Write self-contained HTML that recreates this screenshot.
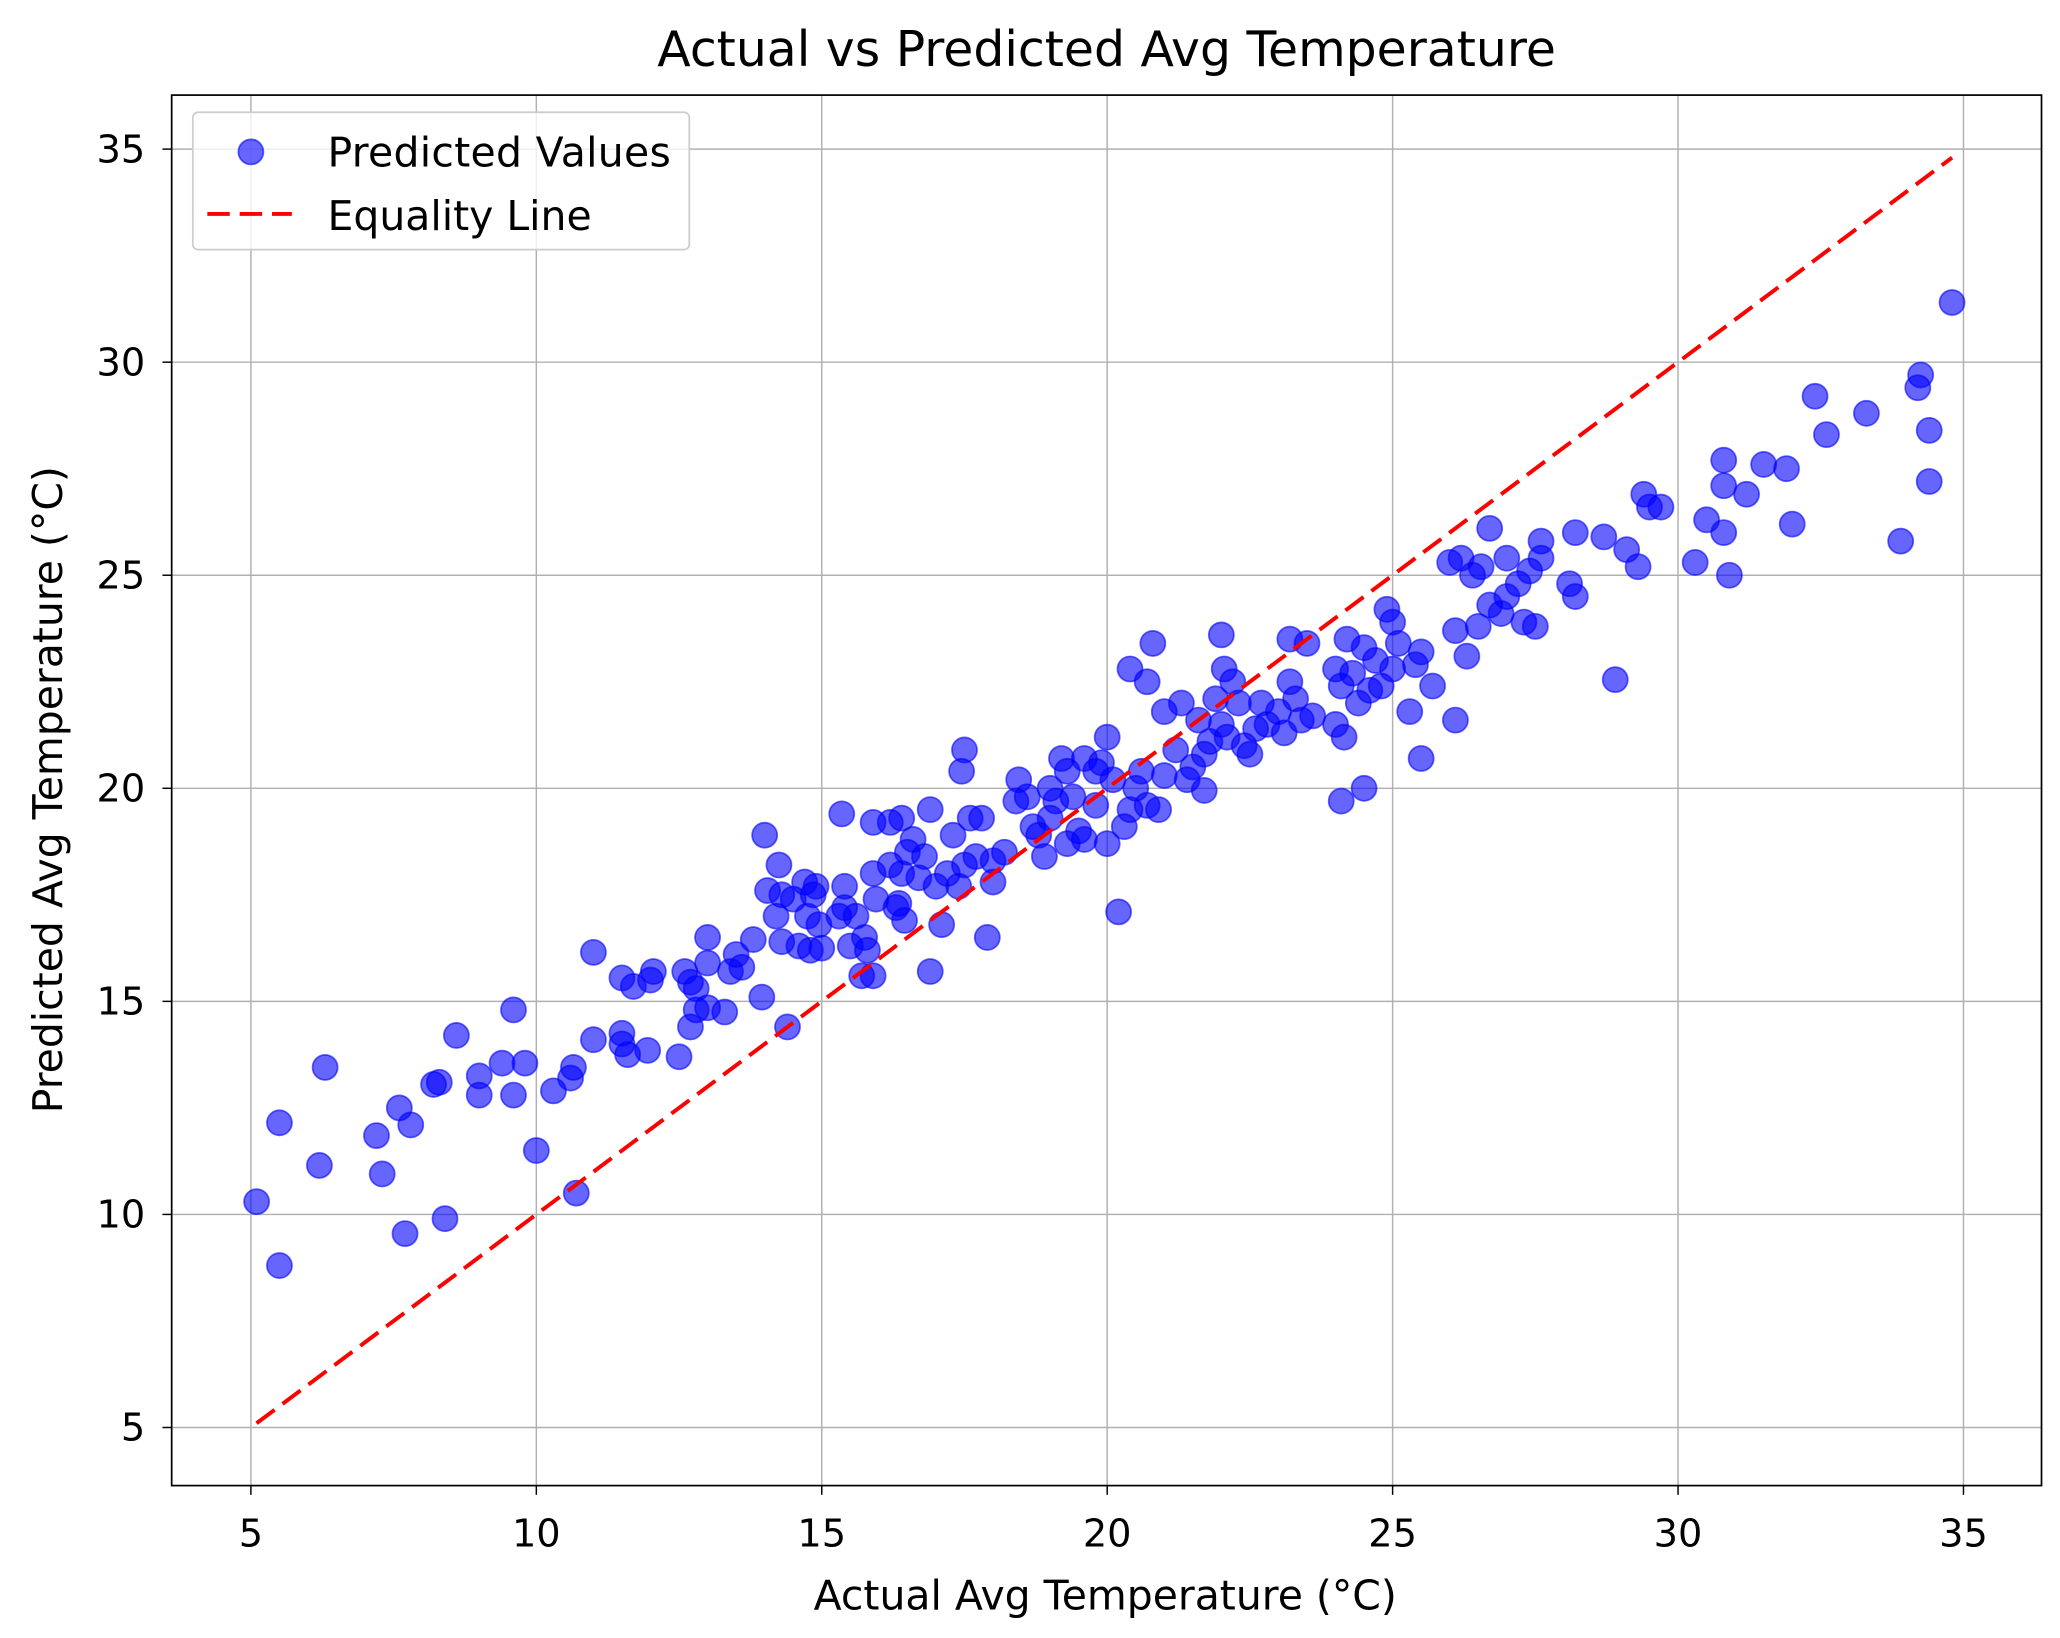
<!DOCTYPE html>
<html><head><meta charset="utf-8"><style>html,body{margin:0;padding:0;background:#fff}svg{display:block}text{font-family:"DejaVu Sans","Liberation Sans",sans-serif;fill:#000}</style></head>
<body>
<svg id="chart" width="2060" height="1638" viewBox="0 0 1560 1240.4" xmlns="http://www.w3.org/2000/svg">
<g id="grid"></g>
<g id="pts"></g>
<g id="eq"></g>
<rect x="130" y="72" width="1416" height="1053" fill="none" stroke="#000" stroke-width="1.3"/>
<g id="ticks"></g>
<text x="838" y="50" font-size="37" text-anchor="middle">Actual vs Predicted Avg Temperature</text>
<text x="837" y="1219" font-size="31" text-anchor="middle">Actual Avg Temperature (°C)</text>
<text transform="translate(47,598) rotate(-90)" font-size="31" text-anchor="middle">Predicted Avg Temperature (°C)</text>
<g>
<rect x="146" y="85" width="376" height="104" rx="4" fill="#fff" fill-opacity="0.8" stroke="#ccc" stroke-width="1.3"/>
<circle cx="190" cy="115" r="9.5" fill="rgba(0,0,255,0.6)" stroke="rgba(0,0,255,0.6)" stroke-width="1.3"/>
<text x="248" y="126" font-size="31" textLength="260">Predicted Values</text>
<line x1="157" y1="162" x2="221" y2="162" stroke="#f00" stroke-width="3" stroke-dasharray="17,7.5"/>
<text x="248" y="174" font-size="31">Equality Line</text>
</g>
</svg>
<script>
const xTicks=[5,10,15,20,25,30,35];
const yTicks=[5,10,15,20,25,30,35];
const actual=[5.1,5.5,5.5,6.2,6.3,7.2,7.3,7.6,7.7,7.8,8.2,8.3,8.4,8.6,9.0,9.0,9.4,9.6,9.6,9.8,10.0,10.3,10.6,10.65,10.7,11.0,11.0,11.5,11.5,11.5,11.6,11.7,11.95,12.0,12.05,12.5,12.6,12.7,12.7,12.8,12.8,13.0,13.0,13.0,13.3,13.4,13.5,13.6,13.8,13.95,14.0,14.05,14.2,14.25,14.3,14.3,14.4,14.5,14.6,14.7,14.75,14.8,14.85,14.9,14.95,15.0,15.3,15.35,15.4,15.4,15.5,15.6,15.7,15.75,15.8,15.9,15.9,15.9,15.95,16.2,16.2,16.3,16.35,16.4,16.4,16.45,16.5,16.6,16.7,16.8,16.9,16.9,17.0,17.1,17.2,17.3,17.4,17.45,17.5,17.5,17.6,17.7,17.8,17.9,18.0,18.0,18.2,18.4,18.45,18.6,18.7,18.8,18.9,19.0,19.0,19.1,19.2,19.3,19.3,19.4,19.5,19.6,19.6,19.8,19.8,19.9,20.0,20.0,20.1,20.2,20.3,20.4,20.4,20.5,20.6,20.7,20.7,20.8,20.9,21.0,21.0,21.2,21.3,21.4,21.5,21.6,21.7,21.7,21.8,21.9,22.0,22.0,22.05,22.1,22.2,22.3,22.4,22.5,22.6,22.7,22.8,23.0,23.1,23.2,23.2,23.3,23.4,23.5,23.6,24.0,24.0,24.1,24.1,24.15,24.2,24.3,24.4,24.5,24.5,24.6,24.7,24.8,24.9,25.0,25.0,25.1,25.3,25.4,25.5,25.5,25.7,26.0,26.1,26.1,26.2,26.3,26.4,26.5,26.55,26.7,26.7,26.9,27.0,27.0,27.2,27.3,27.4,27.5,27.6,27.6,28.1,28.2,28.2,28.7,28.9,29.1,29.3,29.4,29.5,29.7,30.3,30.5,30.8,30.8,30.8,30.9,31.2,31.5,31.9,32.0,32.4,32.6,33.3,33.9,34.2,34.25,34.4,34.4,34.8];
const predicted=[10.3,8.8,12.15,11.15,13.45,11.85,10.95,12.5,9.55,12.1,13.05,13.1,9.9,14.2,12.8,13.25,13.55,14.8,12.8,13.55,11.5,12.9,13.2,13.45,10.5,16.15,14.1,15.55,14.25,14.0,13.75,15.35,13.85,15.5,15.7,13.7,15.7,14.4,15.45,15.3,14.8,16.5,15.9,14.85,14.75,15.7,16.1,15.8,16.45,15.1,18.9,17.6,17.0,18.2,16.4,17.5,14.4,17.4,16.3,17.8,17.0,16.2,17.5,17.7,16.8,16.25,17.0,19.4,17.7,17.2,16.3,17.0,15.6,16.5,16.2,19.2,15.6,18.0,17.4,18.2,19.2,17.2,17.3,18.0,19.3,16.9,18.5,18.8,17.9,18.4,19.5,15.7,17.7,16.8,18.0,18.9,17.7,20.4,20.9,18.2,19.3,18.4,19.3,16.5,18.3,17.8,18.5,19.7,20.2,19.8,19.1,18.9,18.4,20.0,19.3,19.7,20.7,18.7,20.4,19.8,19.0,18.8,20.7,20.4,19.6,20.6,21.2,18.7,20.2,17.1,19.1,19.5,22.8,20.0,20.4,19.6,22.5,23.4,19.5,21.8,20.3,20.9,22.0,20.2,20.5,21.6,19.95,20.8,21.1,22.1,23.6,21.5,22.8,21.2,22.5,22.0,21.0,20.8,21.4,22.0,21.5,21.8,21.3,23.5,22.5,22.1,21.6,23.4,21.7,22.8,21.5,19.7,22.4,21.2,23.5,22.7,22.0,20.0,23.3,22.3,23.0,22.4,24.2,23.9,22.8,23.4,21.8,22.9,20.7,23.2,22.4,25.3,23.7,21.6,25.4,23.1,25.0,23.8,25.2,26.1,24.3,24.1,25.4,24.5,24.8,23.9,25.1,23.8,25.8,25.4,24.8,24.5,26.0,25.9,22.55,25.6,25.2,26.9,26.6,26.6,25.3,26.3,27.7,26.0,27.1,25.0,26.9,27.6,27.5,26.2,29.2,28.3,28.8,25.8,29.4,29.7,28.4,27.2,31.4];
const lineX=[5.1,34.8];
const NS='http://www.w3.org/2000/svg';
const sx=v=>190+(v-5)*43.23;
const sy=v=>1081-(v-5)*32.27;
function mk(tag,attrs,parent){const e=document.createElementNS(NS,tag);for(const k in attrs)e.setAttribute(k,attrs[k]);parent.appendChild(e);return e;}
const grid=document.getElementById('grid'),ticks=document.getElementById('ticks');
xTicks.forEach(t=>{
  const g=mk('line',{x1:sx(t),x2:sx(t),y1:72,y2:1125,stroke:'#b0b0b0','stroke-width':1.1},grid);
  
  
  const tk=mk('line',{x1:sx(t),x2:sx(t),y1:1125,y2:1132,stroke:'#000','stroke-width':1.1},ticks);
  
  
  const tx=mk('text',{x:sx(t),y:1171,'font-size':29,'text-anchor':'middle'},ticks);
  tx.textContent=t;
  
  
});
yTicks.forEach(t=>{
  const g=mk('line',{x1:130,x2:1546,y1:sy(t),y2:sy(t),stroke:'#b0b0b0','stroke-width':1.1},grid);
  
  
  const tk=mk('line',{x1:123,x2:130,y1:sy(t),y2:sy(t),stroke:'#000','stroke-width':1.1},ticks);
  
  
  const tx=mk('text',{x:110,y:sy(t)+10,'font-size':29,'text-anchor':'end'},ticks);
  tx.textContent=t;
  
  
});
const pts=document.getElementById('pts');
actual.forEach((a,i)=>{
  const c=mk('circle',{cx:sx(a),cy:sy(predicted[i]),r:9.5,fill:'rgba(0,0,255,0.6)',stroke:'rgba(0,0,255,0.6)','stroke-width':1.3},pts);
  
  
});
const l=mk('line',{x1:sx(lineX[0]),y1:sy(lineX[0]),x2:sx(lineX[1]),y2:sy(lineX[1]),stroke:'#f00','stroke-width':3,'stroke-dasharray':'17,7.5'},document.getElementById('eq'));


</script>
</body></html>
